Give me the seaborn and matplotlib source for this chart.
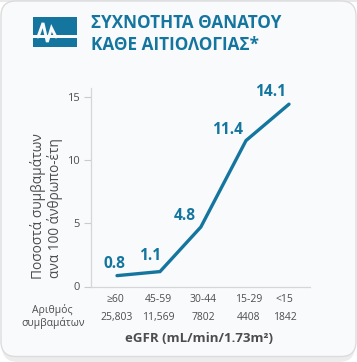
import matplotlib
matplotlib.use('Agg')
import matplotlib.pyplot as plt
from matplotlib.patches import FancyBboxPatch, Rectangle
import pandas
import seaborn as sns

W, H = 357, 362
BLUE = '#14769f'
GREY = '#4d4d4f'
CARD = '#f9fafc'

# where the line runs (printed labels differ a little)
positions = [0, 1, 1.95, 3, 4]
line_values = [0.86, 1.18, 4.71, 11.55, 14.43]
value_labels = ['0.8', '1.1', '4.8', '11.4', '14.1']
egfr_labels = ['≥60', '45-59', '30-44', '15-29', '<15']
event_counts = ['25,803', '11,569', '7802', '4408', '1842']
y_ticks = [0, 5, 10, 15]

sns.set_style('white')
plt.rcParams['font.family'] = ['Open Sans', 'DejaVu Sans']


def fx(px):
    return px / W


def fy(py):
    return 1 - py / H


fig = plt.figure(figsize=(W / 100, H / 100), dpi=100, facecolor='white')

# card and its shadow
back = fig.add_axes([0, 0, 1, 1], zorder=0)
back.set_xlim(0, W)
back.set_ylim(H, 0)
back.axis('off')
back.add_patch(Rectangle((0, 0), W, 2, color='#e9e9ea', lw=0))
back.add_patch(FancyBboxPatch((2, 6), W - 4, H - 6, boxstyle='round,pad=0,rounding_size=16',
                              fc='#ececed', ec='none'))
back.add_patch(FancyBboxPatch((1, 1), W - 2, H - 6.5, boxstyle='round,pad=0,rounding_size=15',
                              fc=CARD, ec='#dcdcde', lw=1))

# icon
back.add_patch(Rectangle((33, 17), 44, 30, color=BLUE, lw=0))
back.add_patch(Rectangle((33, 34.7), 44, 3.8, color=CARD, lw=0))
pulse_x = [38, 43, 47.3, 51.5, 56]
pulse_y = [37, 23, 42, 28, 37]
back.plot(pulse_x, pulse_y, color=CARD, lw=2.1, solid_joinstyle='miter')

# chart
left, right, top, bottom = 90.5, 310, 88, 286.5
ax = fig.add_axes([fx(left), fy(bottom), fx(right - left), (bottom - top) / H], zorder=1)
ax.patch.set_alpha(0)
data = pandas.DataFrame({'position': positions, 'value': line_values})
sns.lineplot(data=data, x='position', y='value', ax=ax, color=BLUE, linewidth=2.4,
             solid_capstyle='round', solid_joinstyle='miter')
ax.set_xlim((left - 117) / 43, (right - 117) / 43)
ax.set_ylim((288 - bottom) / 12.73, (288 - top) / 12.73)
ax.set_xticks([])
ax.set_yticks(y_ticks)
ax.set_xlabel('')
ax.set_ylabel('')
ax.tick_params(axis='y', length=5, width=0.8, color='#c9cbce', labelsize=8,
               labelcolor=GREY, pad=3, left=True)
sns.despine(ax=ax)
ax.spines['left'].set_color('#d5d6d9')
ax.spines['bottom'].set_color('#d5d6d9')
ax.spines['left'].set_linewidth(0.9)
ax.spines['bottom'].set_linewidth(0.9)

# value labels
label_px = [(114.5, 264), (150, 256.5), (185, 216), (228, 130), (270.5, 92)]
for text, (px, py) in zip(value_labels, label_px):
    fig.text(fx(px), fy(py), text, color=BLUE, fontsize=11.2, fontweight='bold',
             ha='center', va='center', zorder=3)

# title
fig.text(fx(91), fy(23), 'ΣΥΧΝΟΤΗΤΑ ΘΑΝΑΤΟΥ', color=BLUE, fontsize=12.3, fontweight='bold',
         ha='left', va='center', zorder=3)
fig.text(fx(91), fy(44.5), 'ΚΑΘΕ ΑΙΤΙΟΛΟΓΙΑΣ*', color=BLUE, fontsize=12.3, fontweight='bold',
         ha='left', va='center', zorder=3)

# y axis title
fig.text(fx(38), fy(206), 'Ποσοστά συμβαμάτων', color=GREY, fontsize=9.9, rotation=90,
         ha='center', va='center', zorder=3)
fig.text(fx(55), fy(208), 'ανα 100 άνθρωπο-έτη', color=GREY, fontsize=9.8, rotation=90,
         ha='center', va='center', zorder=3)

# table under the axis
egfr_px = [115.5, 158.5, 203.5, 248.5, 284]
count_px = [117, 158, 203, 249, 285]
for text, px in zip(egfr_labels, egfr_px):
    fig.text(fx(px), fy(300), text, color=GREY, fontsize=7.5, ha='center', va='center', zorder=3)
for text, px in zip(event_counts, count_px):
    fig.text(fx(px), fy(317.5), text, color=GREY, fontsize=7.5, ha='center', va='center', zorder=3)
fig.text(fx(52), fy(310.5), 'Αριθμός', color=GREY, fontsize=7.5, ha='center', va='center', zorder=3)
fig.text(fx(53), fy(323), 'συμβαμάτων', color=GREY, fontsize=7.5, ha='center', va='center', zorder=3)
fig.text(fx(199), fy(339), 'eGFR (mL/min/1.73m²)', color=GREY, fontsize=9.5, fontweight='bold',
         ha='center', va='center', zorder=3)

fig.savefig('out.png', dpi=100)
